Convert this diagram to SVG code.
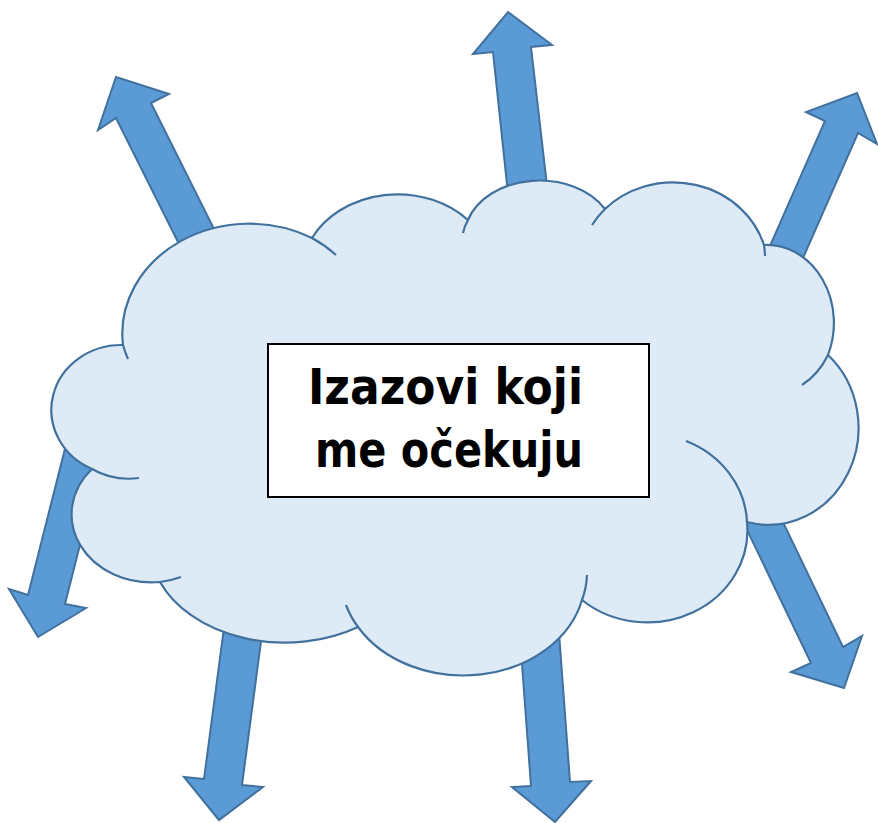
<svg xmlns="http://www.w3.org/2000/svg" width="878" height="823" viewBox="0 0 878 823">
<style>
.arrow{fill:#5B9BD5;stroke:#41719C;stroke-width:2;stroke-linejoin:miter}
.cloud{fill:#DEEBF7;stroke:#41719C;stroke-width:2.2}
.inner{fill:none;stroke:#41719C;stroke-width:2.2}
.box{fill:#FFFFFF;stroke:#000000;stroke-width:2}
.lbl{font-family:"DejaVu Sans","Liberation Sans",sans-serif;font-weight:bold;font-size:49px;fill:#000000}
</style>
<rect width="878" height="823" fill="#FFFFFF"/>
<g id="connectors">
<polygon class="arrow" points="209,304 116,118 98,130 116,77 169,94 151,103 244,289"/>
<polygon class="arrow" points="515,260 493,52 473,54 508,12 552,45 531,47 555,255"/>
<polygon class="arrow" points="737,321 825,121 806,112 857,93 877,144 858,133 770,333"/>
<polygon class="arrow" points="72,421 28,595 9,589 38,637 86,608 65,604 109,430"/>
<polygon class="arrow" points="231,575 204,779 184,777 219,820 263,787 242,785 269,581"/>
<polygon class="arrow" points="517,596 531,786 512,787 555,822 591,781 570,782 556,592"/>
<polygon class="arrow" points="711,455 811,663 791,672 844,688 862,636 843,647 743,439"/>
</g>
<g id="cloud">
<path class="cloud" d="M123,345 A127,110 0 0 1 312,238 A96,80 0 0 1 468,220 A75,56 0 0 1 605,209 A95,88 0 0 1 764,245 A67,78 0 0 1 828,355 A90,97 0 0 1 747,522 A100,92 0 0 1 582,600 A122,98 0 0 1 358,627 A135,98 0 0 1 160,582 A80,68 0 0 1 92,469 A70,65 0 0 1 123,345 Z"/>
<path class="inner" d="M128,359 A127,110 0 0 1 123,345 M312,238 A127,110 0 0 1 336,255 M463,233 A75,56 0 0 1 468,220 M592,225 A95,88 0 0 1 605,209 M764,245 A95,88 0 0 1 765,256 M828,355 A67,78 0 0 1 802,385 M686,441 A100,92 0 0 1 747,522 M587,575 A122,98 0 0 1 582,600 M358,627 A122,98 0 0 1 346,605 M181,577 A80,68 0 0 1 160,582 M139,478 A70,65 0 0 1 92,469"/>
</g>
<g id="label">
<rect class="box" x="268" y="344" width="381" height="153"/>
<text class="lbl" x="308" y="404" textLength="275" lengthAdjust="spacingAndGlyphs">Izazovi koji</text>
<text class="lbl" x="315" y="467" textLength="268" lengthAdjust="spacingAndGlyphs">me očekuju</text>
</g>
</svg>
